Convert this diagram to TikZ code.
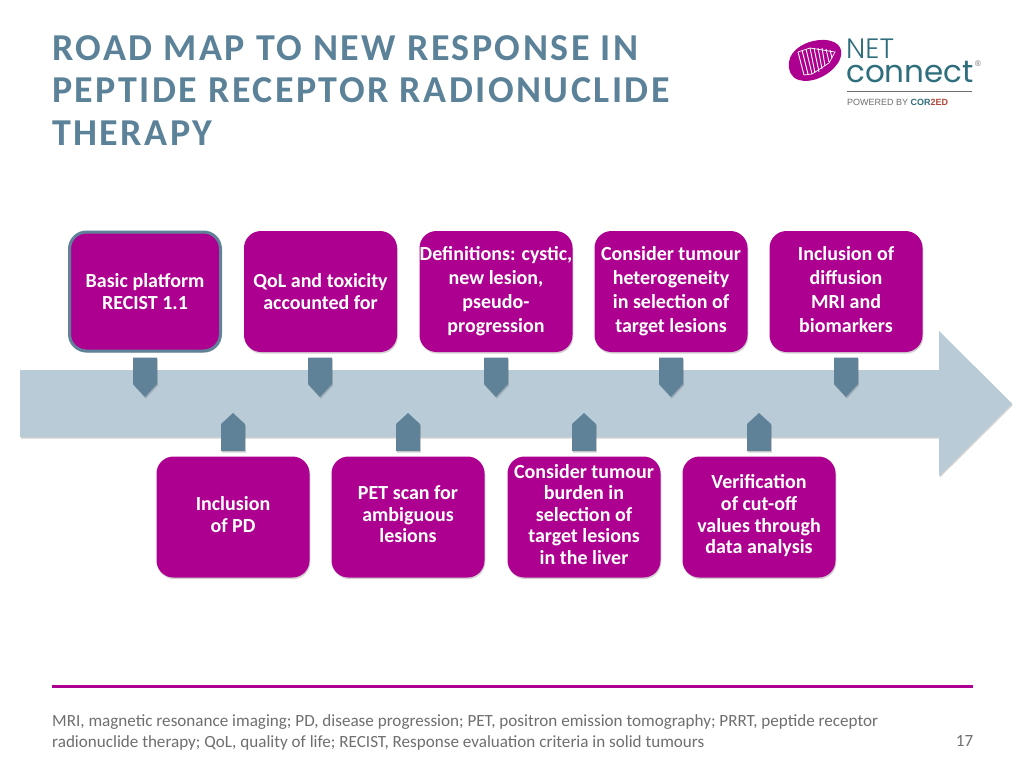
\documentclass[tikz,border=0pt]{standalone}
\usepackage{fontspec}
\setmainfont{Carlito}
\newfontfamily\logofont{Liberation Sans}
\newfontfamily\logoround{Poppins}
\newfontfamily\logolight{Poppins Light}
\usetikzlibrary{shadows}
\definecolor{magentabox}{HTML}{AE0090}
\definecolor{titleblue}{HTML}{5B8298}
\definecolor{markerblue}{HTML}{5F8299}
\definecolor{arrowblue}{HTML}{B9CBD7}
\definecolor{footgray}{HTML}{6F6F6F}
\definecolor{logoteal}{HTML}{2F6E7C}
\definecolor{logored}{HTML}{B5483C}
\tikzset{
  x=1pt,y=-1pt,
  softshadow/.style={drop shadow={shadow xshift=0.8pt,shadow yshift=-1.6pt,opacity=.25,fill=black!70}},
  infobox/.style={rectangle,rounded corners=17pt,fill=magentabox,text=white,
    minimum width=153pt,minimum height=121pt,inner sep=0pt,align=center,
    font=\fontsize{20}{24}\selectfont\bfseries,softshadow},
  infotwo/.style={infobox,font=\fontsize{20}{22}\selectfont\bfseries},
  infoboxlow/.style={infobox,font=\fontsize{20}{21.6}\selectfont\bfseries},
  marker/.style={fill=markerblue,softshadow},
  titletext/.style={anchor=west,inner sep=0pt,text=titleblue,font=\fontsize{38}{42}\selectfont\bfseries\addfontfeatures{LetterSpace=6.5}},
  foot/.style={anchor=west,inner sep=0pt,text=footgray,font=\fontsize{17.1}{20}\selectfont},
}
\newcommand{\markerdown}[1]{\path[marker] (#1-12,357.5) -- (#1+12,357.5) -- (#1+12,384) -- (#1,397) -- (#1-12,384) -- cycle;}
\newcommand{\markerup}[1]{\path[marker] (#1-12,451) -- (#1+12,451) -- (#1+12,424) -- (#1,413) -- (#1-12,424) -- cycle;}
\begin{document}
\begin{tikzpicture}
\useasboundingbox[fill=white] (0,0) rectangle (1024,768);

% title
\node[titletext] (t1) at (52,48) {ROAD MAP TO NEW RESPONSE IN};
\node[titletext] (t2) at (52,90.5) {PEPTIDE RECEPTOR RADIONUCLIDE};
\node[titletext] (t3) at (52,133) {THERAPY};

% logo
\path[fill=magentabox] (789,62) .. controls (790,50) and (807,39) .. (825,40)
  .. controls (841,41) and (845,52) .. (838,63)
  .. controls (830,75) and (812,84) .. (799,80)
  .. controls (791,78) and (788,70) .. (789,62) -- cycle;
\foreach \a/\b/\c/\d in {798/52/804/75,802/50/808/74,806/49/812/74,810/48/815/73,814/48/819/72,818/48/822/69,822/48/825/66,826/49/829/62,830/50/832/58}
  \draw[white,line width=.9pt] (\a,\b) -- (\c,\d);
\draw[white,line width=.7pt] (798,52) -- (810,48) -- (835,52) -- (829,63) -- (812,74) -- (804,75);
\node[inner sep=0pt,anchor=west,text=logoteal,font=\logolight\fontsize{28}{28}\selectfont] (lognet) at (846,49) {NET};
\node[inner sep=0pt,anchor=west,text=logoteal,font=\logoround\fontsize{31}{31}\selectfont] (logcon) at (846,72) {connect};
\node[inner sep=0pt,text=footgray,font=\logofont\fontsize{8}{8}\selectfont] (logr) at (978,64) {®};
\draw[footgray,line width=.9pt] (847,91) -- (972,91);
\node[inner sep=0pt,anchor=west,text=footgray,font=\logofont\fontsize{9}{9}\selectfont] (logp) at (847,102) {POWERED BY \textbf{{\color{logoteal}COR}{\color{logored}2ED}}};

% big arrow
\path[fill=arrowblue,softshadow] (20,370) -- (939,370) -- (939,331) -- (1012,403.5) -- (939,476) -- (939,437) -- (20,437) -- cycle;

% markers
\markerdown{145}\markerdown{320}\markerdown{496}\markerdown{671}\markerdown{846}
\markerup{233}\markerup{408}\markerup{584}\markerup{759}

% upper boxes
\node[infotwo,draw=markerblue,line width=3pt,minimum width=151pt,minimum height=119pt] (b1) at (145,291.5) {\raisebox{0pt}{Basic platform}\\RECIST 1.1};
\node[infotwo] (b2) at (320.5,291.5) {QoL and toxicity\\accounted for};
\node[infobox] (b3) at (496,291.5) {\strut Definitions: cystic,\\new lesion,\\pseudo-\\progression\strut};
\node[infobox] (b4) at (671,291.5) {\strut Consider tumour\\heterogeneity\\in selection of\\target lesions\strut};
\node[infobox] (b5) at (846,291.5) {\strut Inclusion of\\diffusion\\MRI and\\biomarkers\strut};

% lower boxes
\node[infoboxlow] (c1) at (233,517) {\strut Inclusion\\of PD\strut};
\node[infoboxlow] (c2) at (408,517) {\strut PET scan for\\ambiguous\\lesions\strut};
\node[infoboxlow] (c3) at (584,517) {\strut Consider tumour\\burden in\\selection of\\target lesions\\in the liver\strut};
\node[infoboxlow] (c4) at (759,517) {\strut Verification\\of cut-off\\values through\\data analysis\strut};

% footer
\draw[magentabox,line width=3pt] (52,686) -- (973,686);
\node[foot] (f1) at (52,722.5) {MRI, magnetic resonance imaging; PD, disease progression; PET, positron emission tomography; PRRT, peptide receptor};
\node[foot] (f2) at (52,743) {radionuclide therapy; QoL, quality of life; RECIST, Response evaluation criteria in solid tumours};
\node[foot,anchor=center] (pg) at (964.5,741) {17};
\end{tikzpicture}
\end{document}
